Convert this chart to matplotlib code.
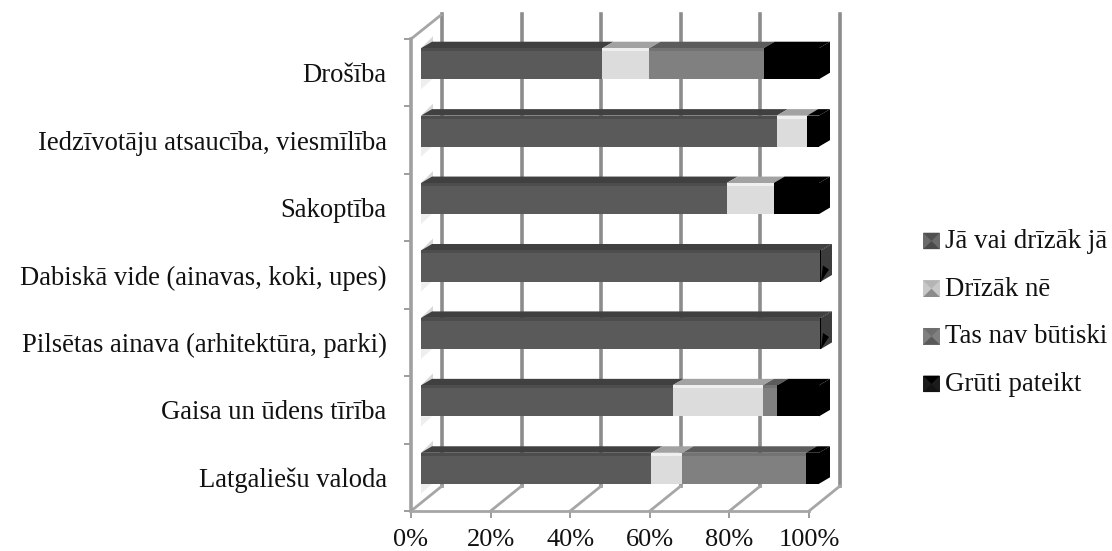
import matplotlib
matplotlib.use('Agg')
import matplotlib.pyplot as plt
import matplotlib.transforms as mtrans
from matplotlib.patches import Polygon, Patch
from matplotlib.legend_handler import HandlerBase

plt.rcParams['font.family'] = ['Liberation Serif', 'DejaVu Serif']

categories = ['Drošība', 'Iedzīvotāju atsaucība, viesmīlība', 'Sakoptība',
              'Dabiskā vide (ainavas, koki, upes)', 'Pilsētas ainava (arhitektūra, parki)',
              'Gaisa un ūdens tīrība', 'Latgaliešu valoda']
series_names = ['Jā vai drīzāk jā', 'Drīzāk nē', 'Tas nav būtiski', 'Grūti pateikt']
ja = [45.6, 89.4, 76.8, 100.2, 100.2, 63.2, 57.9]
ne = [11.8, 7.6, 11.8, 0.0, 0.0, 22.7, 7.8]
nav = [28.7, 0.0, 0.0, 0.0, 0.0, 3.6, 31.0]
gruti = [13.9, 3.0, 11.4, 0.3, 0.3, 10.5, 3.3]
ticks = [0, 20, 40, 60, 80, 100]

front_cols = ['#5a5a5a', '#dcdcdc', '#808080', '#000000']
top_cols = ['#404040', '#a2a2a2', '#5c5c5c', '#000000']
band_cols = ['#4d4d4d', '#efefef', '#737373', '#000000']
grid_col = '#8c8c8c'
floor_col = '#a6a6a6'
text_col = '#111111'
W, H = 1112, 551


class PyramidHandler(HandlerBase):
    # little bevelled square like the excel legend key
    def create_artists(self, legend, orig, xd, yd, w, h, fs, trans):
        s = 12
        x0, y0 = -xd + 3, -yd - 1
        c = orig.get_facecolor()
        e = orig.get_edgecolor()
        m = (x0 + s / 2, y0 + s / 2)
        out = [Polygon([(x0, y0), (x0 + s, y0), (x0 + s, y0 + s), (x0, y0 + s)], fc=c, ec='none', transform=trans),
               Polygon([m, (x0 + s, y0 + s), (x0, y0 + s)], fc=e, ec='none', transform=trans),
               Polygon([m, (x0 + s, y0), (x0, y0)], fc='#000000', ec='none', alpha=0.3, transform=trans)]
        return out


fig = plt.figure(figsize=(W / 100, H / 100), dpi=100)
ax = fig.add_axes([411 / W, 1 - 511 / H, 398 / W, 472 / H])
ax.set_xlim(0, 100)
ax.set_ylim(6.5, -0.5)
for s in ['top', 'right']:
    ax.spines[s].set_visible(False)
ax.spines['left'].set_color('#a0a0a0')
ax.spines['left'].set_linewidth(2.6)
ax.spines['bottom'].set_color(floor_col)
ax.spines['bottom'].set_linewidth(2.0)
ax.patch.set_alpha(0)

# the 3d look is done with pixel offsets from the front plane
back = ax.transData + mtrans.Affine2D().translate(31, 25)
mid = ax.transData + mtrans.Affine2D().translate(10, 9)

ybot, ytop = 6.5, -0.5
for t in ticks:
    ax.plot([t, t], [ybot, ytop], transform=back, color=grid_col, lw=2.6, clip_on=False, zorder=1)
    # floor lines
    x0, y0 = ax.transData.transform((t, ybot))
    ax.plot([x0, x0 + 31], [y0, y0 + 25], transform=None, color=floor_col, lw=2.0, clip_on=False, zorder=1)
x0, y0 = ax.transData.transform((0, ytop))
ax.plot([x0, x0 + 30], [y0, y0 + 24], transform=None, color=floor_col, lw=2.0, clip_on=False, zorder=1)

bar_h = 0.46
ypos = list(range(len(categories)))

# faint shadows on the left wall, above and below each bar
for y in ypos:
    px, py = mid.transform((0, y + bar_h / 2))
    ax.add_patch(Polygon([(px, py), (px + 11, py), (px, py - 10)],
                         transform=None, fc='#eeeeee', ec='none', zorder=1.5, clip_on=False))
    px, py = mid.transform((0, y - bar_h / 2))
    ax.add_patch(Polygon([(px, py), (px + 12, py + 12), (px + 12, py + 5), (px + 5, py)],
                         transform=None, fc='#d8d8d8', ec='none', zorder=1.5, clip_on=False))

left = [0] * len(categories)
for vals, fc, tc, bc, name in zip([ja, ne, nav, gruti], front_cols, top_cols, band_cols, series_names):
    ax.barh(ypos, vals, left=left, height=bar_h, color=fc, edgecolor='none', transform=mid, zorder=3, clip_on=False, label=name)
    for y, v, l in zip(ypos, vals, left):
        if v == 0:
            continue
        # top face
        xa, ya = mid.transform((l, y - bar_h / 2))
        xb, yb = mid.transform((l + v, y - bar_h / 2))
        ax.add_patch(Polygon([(xa, ya), (xb, yb), (xb + 11, yb + 6.5), (xa + 11, ya + 6.5)],
                             transform=None, fc=tc, ec='none', zorder=2.5, clip_on=False))
        # band just under the top edge
        ax.add_patch(Polygon([(xa, ya), (xb, yb), (xb, yb - 3), (xa, ya - 3)],
                             transform=None, fc=bc, ec='none', zorder=3.1, clip_on=False))
    left = [a + b for a, b in zip(left, vals)]

# right end caps, grey with a black wedge where the last segment is very thin
for y, l, g in zip(ypos, left, gruti):
    xa, ya = mid.transform((l, y - bar_h / 2))
    xb, yb = mid.transform((l, y + bar_h / 2))
    thin = g < 1
    ax.add_patch(Polygon([(xa, ya), (xa + 11, ya + 6.5), (xb + 11, yb + 6.5), (xb, yb)],
                         transform=None, fc='#3c3c3c' if thin else '#000000', ec='none', zorder=3, clip_on=False))
    if thin:
        ax.add_patch(Polygon([(xb, yb), (xb + 8, yb + 12), (xb + 2, yb + 16)],
                             transform=None, fc='#000000', ec='none', zorder=3.2, clip_on=False))

ax.set_yticks([i - 0.5 for i in range(8)], minor=True)
ax.set_yticks(ypos)
ax.set_yticklabels(categories, fontsize=19.2, color=text_col)
ax.tick_params(axis='y', which='major', length=0, pad=17.5)
ax.tick_params(axis='y', which='minor', length=5, width=1.2, color=grid_col)
ax.set_xticks(ticks)
ax.set_xticklabels([str(t) + '%' for t in ticks], fontsize=19, color=text_col)
ax.tick_params(axis='x', length=5, width=1.2, color=grid_col, pad=7.7)

handles = [Patch(facecolor=c, edgecolor=t) for c, t in
           zip(['#6a6a6a', '#c8c8c8', '#808080', '#1c1c1c'], ['#505050', '#b4b4b4', '#6e6e6e', '#000000'])]
fig.legend(handles, series_names, loc='upper left', bbox_to_anchor=(919 / W, 1 - 229 / H),
           bbox_transform=fig.transFigure, frameon=False, fontsize=19.4, labelspacing=0.84,
           handler_map={Patch: PyramidHandler()}, handlelength=0.8, handletextpad=0.15,
           borderpad=0, borderaxespad=0, labelcolor=text_col)

fig.savefig('out.png', dpi=100)
